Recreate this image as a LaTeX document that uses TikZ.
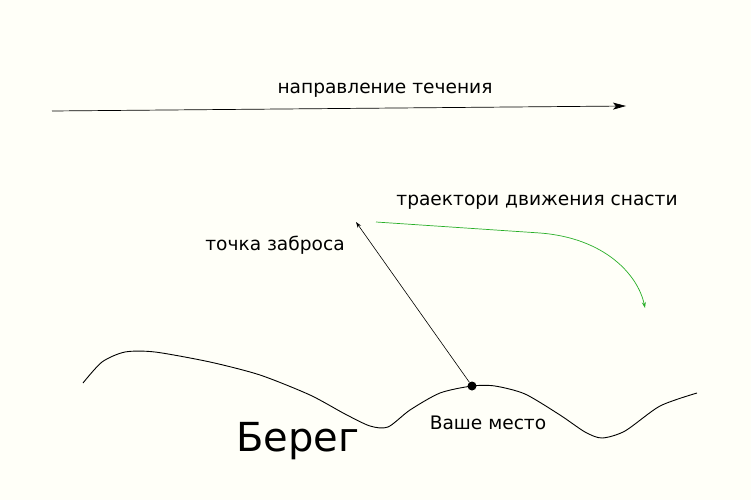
\documentclass[tikz,border=0pt]{standalone}
\usepackage{fontspec}
\setmainfont{DejaVu Sans}
\usetikzlibrary{arrows.meta}
\definecolor{bg}{RGB}{255,255,248}
\definecolor{trajgreen}{RGB}{40,175,40}
\begin{document}
\begin{tikzpicture}[x=1pt,y=-1pt,
  lbl/.style={inner sep=0pt, font=\fontsize{18.6}{21}\selectfont},
  thinarrow/.style={draw, line width=0.6pt, -{Stealth[length=6pt,width=4pt]}},
  shore/.style={draw, line width=0.9pt}]
\fill[bg] (0,0) rectangle (751,500);
\useasboundingbox (0,0) rectangle (751,500);

% current direction
\coordinate (c1) at (52,111);
\coordinate (c2) at (626,106);
\draw[line width=0.7pt, -{Stealth[length=13pt,width=7pt,inset=3pt]}] (c1) -- (c2);
\node[lbl] (curlbl) at (385,90) {направление течения};

% shoreline
\draw[shore] plot[smooth, tension=0.45] coordinates {
 (83,383) (102,362) (125,352) (155,352) (210,362) (260,375) (310,395)
 (345,414) (370,426) (388,427) (410,410) (440,393) (472,386) (495,386)
 (525,394) (560,415) (585,432) (602,438) (625,431) (660,406) (697,393)};

% your place
\node[circle, fill=black, inner sep=0pt, minimum size=9pt] (me) at (472,386) {};
\node[lbl] (melbl) at (488,423) {Ваше место};
\coordinate (cast) at (356,222);
\draw[thinarrow] (me) -- (cast);
\node[lbl] (castlbl) at (275,245) {точка заброса};

% trajectory
\coordinate (t1) at (376,222);
\coordinate (t2) at (540,233);
\coordinate (t3) at (645,308);
\draw[trajgreen, line width=0.7pt, -{Stealth[length=6pt,width=4pt]}]
  (t1) -- (t2) .. controls (605,238) and (638,275) .. (t3);
\node[lbl] (trajlbl) at (537,202) {траектори движения снасти};

% shore label
\node[inner sep=0pt, font=\fontsize{40}{44}\selectfont] (shorelbl) at (298,441) {Берег};
\end{tikzpicture}
\end{document}
